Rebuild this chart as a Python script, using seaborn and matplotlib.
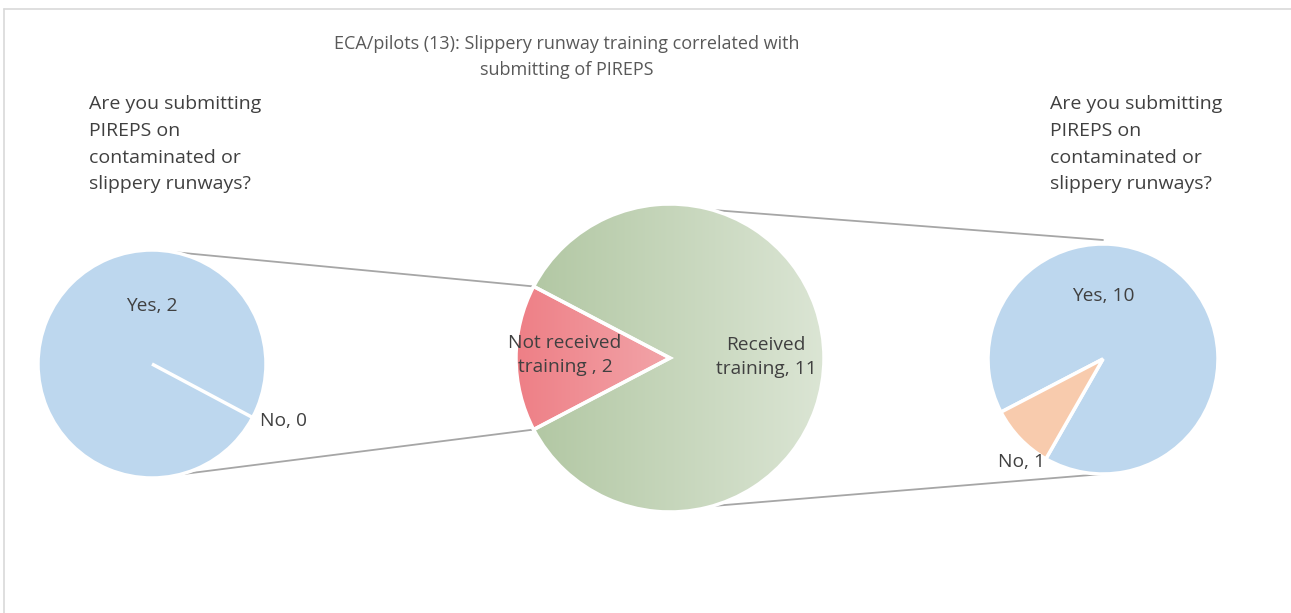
import numpy as np
import matplotlib
matplotlib.use("Agg")
import matplotlib.pyplot as plt
import seaborn as sns

# INPUT VALUES
title = "ECA/pilots (13): Slippery runway training correlated with\nsubmitting of PIREPS"
question = "Are you submitting\nPIREPS on\ncontaminated or\nslippery runways?"

training_labels = ["Not received\ntraining ", "Received\ntraining"]
training_counts = [2, 11]

answer_labels = ["Yes", "No"]
not_trained_counts = [2, 0]     # left pie
trained_counts = [10, 1]        # right pie

sns.set_theme(style="white")
plt.rcParams["font.family"] = ["Open Sans", "DejaVu Sans"]

W, H = 1291, 613
fig = plt.figure(figsize=(W / 100, H / 100), dpi=100)
ax = fig.add_axes([0, 0, 1, 1])

blue = "#bdd7ee"
orange = "#f8cbad"
text_col = "#404040"
line_col = "#a6a6a6"

# pie geometry (pixel space, y up)
c_mid, r_mid = (670, 255), 154
c_left, r_left = (152, 249), 114
c_right, r_right = (1103, 254), 115

wp = dict(edgecolor="white", linewidth=2.5)

# centre pie: training
mid_start = 180 - 360 * training_counts[0] / sum(training_counts) / 2
w_mid, _ = ax.pie(training_counts, colors=["none", "none"], startangle=mid_start,
                  center=c_mid, radius=r_mid, wedgeprops=wp, frame=True)
# gradient fills clipped to the wedges
grad = np.linspace(0, 1, 256)[None, :]
ext = [c_mid[0] - r_mid, c_mid[0] + r_mid, c_mid[1] - r_mid, c_mid[1] + r_mid]
cmaps = [matplotlib.colors.LinearSegmentedColormap.from_list("r", ["#ee7f86", "#f6c9cb"]),
         matplotlib.colors.LinearSegmentedColormap.from_list("g", ["#b0c6a1", "#dbe5d4"])]
for w, cm in zip(w_mid, cmaps):
    im = ax.imshow(grad, cmap=cm, extent=ext, aspect="auto", zorder=0.5)
    im.set_clip_path(w)
    w.set_zorder(1)

# left pie: not received training
ax.pie(not_trained_counts, colors=[blue, orange], startangle=-28,
       center=c_left, radius=r_left, wedgeprops=wp, frame=True)

# right pie: received training
right_start = 180 + 27.5 + 360 * trained_counts[1] / sum(trained_counts)
ax.pie(trained_counts, colors=[blue, orange], startangle=right_start,
       center=c_right, radius=r_right, wedgeprops=wp, frame=True)

ax.set_xlim(0, W)
ax.set_ylim(0, H)
ax.set_aspect("equal")
ax.axis("off")

# connector lines
a = np.deg2rad(mid_start)
p_up = (c_mid[0] + r_mid * np.cos(a), c_mid[1] + r_mid * np.sin(a))
p_lo = (c_mid[0] + r_mid * np.cos(-a), c_mid[1] + r_mid * np.sin(-a))
ax.plot([c_left[0], p_up[0]], [c_left[1] + r_left, p_up[1]], color=line_col, lw=1.3, zorder=0)
ax.plot([c_left[0], p_lo[0]], [c_left[1] - r_left, p_lo[1]], color=line_col, lw=1.3, zorder=0)
b = np.deg2rad(74)
ax.plot([c_mid[0] + r_mid * np.cos(b), c_right[0]], [c_mid[1] + r_mid * np.sin(b), c_right[1] + r_right + 4],
        color=line_col, lw=1.3, zorder=0)
ax.plot([c_mid[0] + r_mid * np.cos(b), c_right[0]], [c_mid[1] - r_mid * np.sin(b), c_right[1] - r_right],
        color=line_col, lw=1.3, zorder=0)

# data labels
lab = dict(fontsize=13.8, color=text_col, va="center", zorder=3)
ax.text(565, H - 355, f"{training_labels[0]}, {training_counts[0]}", ha="center",
        linespacing=1.45, **lab)
ax.text(766, H - 357, f"{training_labels[1]}, {training_counts[1]}", ha="center",
        linespacing=1.45, **lab)
ax.text(152, H - 306, f"{answer_labels[0]}, {not_trained_counts[0]}", ha="center", **lab)
ax.text(260, H - 421, f"{answer_labels[1]}, {not_trained_counts[1]}", ha="left", **lab)
ax.text(1103, H - 296, f"{answer_labels[0]}, {trained_counts[0]}", ha="center", **lab)
ax.text(1022, H - 462, f"{answer_labels[1]}, {trained_counts[1]}", ha="center", **lab)

# title and questions
ax.text(567, H - 57, title, ha="center", va="center", fontsize=13, color="#595959",
        linespacing=1.6)
ax.text(89, H - 95, question, ha="left", va="top", fontsize=14, color=text_col, linespacing=1.63)
ax.text(1050, H - 95, question, ha="left", va="top", fontsize=14, color=text_col, linespacing=1.63)

# chart frame
ax.plot([4, 4], [0, H - 9], color="#d9d9d9", lw=1.2)
ax.plot([4, W], [H - 9, H - 9], color="#d9d9d9", lw=1.2)

plt.savefig("out.png", dpi=100)
